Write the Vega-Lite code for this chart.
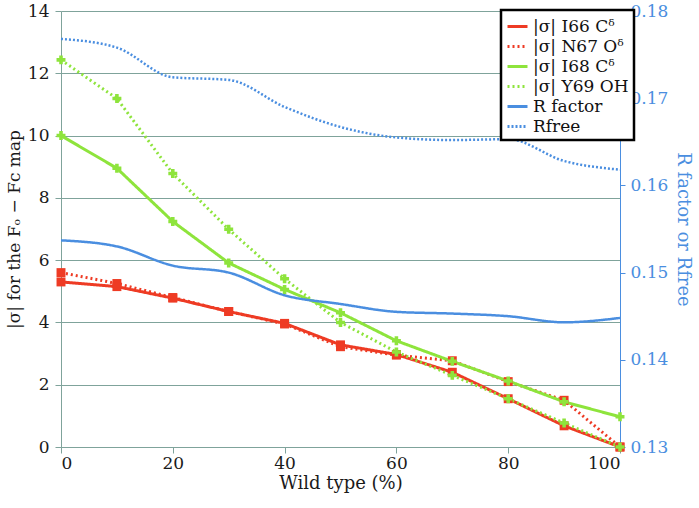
{
  "$schema": "https://vega.github.io/schema/vega-lite/v6.json",
  "width": 559,
  "height": 436,
  "autosize": {"type": "none"},
  "padding": {"left": 61, "top": 11, "right": 79, "bottom": 61},
  "config": {
    "view": {"stroke": null},
    "axis": {"labelFont": "DejaVu Serif", "titleFont": "DejaVu Serif", "labelFontSize": 17, "titleFontSize": 18, "titleFontWeight": "normal", "labelColor": "#1a1a1a", "titleColor": "#1a1a1a"},
    "legend": {"labelFont": "DejaVu Serif"}
  },
  "datasets": {
    "sig": [
      {"x": 0, "s": "|σ| I66 Cᵟ", "v": 5.3}, {"x": 10, "s": "|σ| I66 Cᵟ", "v": 5.15}, {"x": 20, "s": "|σ| I66 Cᵟ", "v": 4.78}, {"x": 30, "s": "|σ| I66 Cᵟ", "v": 4.35}, {"x": 40, "s": "|σ| I66 Cᵟ", "v": 3.97}, {"x": 50, "s": "|σ| I66 Cᵟ", "v": 3.28}, {"x": 60, "s": "|σ| I66 Cᵟ", "v": 2.97}, {"x": 70, "s": "|σ| I66 Cᵟ", "v": 2.4}, {"x": 80, "s": "|σ| I66 Cᵟ", "v": 1.55}, {"x": 90, "s": "|σ| I66 Cᵟ", "v": 0.68}, {"x": 100, "s": "|σ| I66 Cᵟ", "v": 0.0},
      {"x": 0, "s": "|σ| N67 Oᵟ", "v": 5.6}, {"x": 10, "s": "|σ| N67 Oᵟ", "v": 5.25}, {"x": 20, "s": "|σ| N67 Oᵟ", "v": 4.8}, {"x": 30, "s": "|σ| N67 Oᵟ", "v": 4.35}, {"x": 40, "s": "|σ| N67 Oᵟ", "v": 3.95}, {"x": 50, "s": "|σ| N67 Oᵟ", "v": 3.22}, {"x": 60, "s": "|σ| N67 Oᵟ", "v": 2.95}, {"x": 70, "s": "|σ| N67 Oᵟ", "v": 2.77}, {"x": 80, "s": "|σ| N67 Oᵟ", "v": 2.1}, {"x": 90, "s": "|σ| N67 Oᵟ", "v": 1.5}, {"x": 100, "s": "|σ| N67 Oᵟ", "v": 0.0},
      {"x": 0, "s": "|σ| I68 Cᵟ", "v": 10.0}, {"x": 10, "s": "|σ| I68 Cᵟ", "v": 8.95}, {"x": 20, "s": "|σ| I68 Cᵟ", "v": 7.24}, {"x": 30, "s": "|σ| I68 Cᵟ", "v": 5.91}, {"x": 40, "s": "|σ| I68 Cᵟ", "v": 5.06}, {"x": 50, "s": "|σ| I68 Cᵟ", "v": 4.31}, {"x": 60, "s": "|σ| I68 Cᵟ", "v": 3.41}, {"x": 70, "s": "|σ| I68 Cᵟ", "v": 2.75}, {"x": 80, "s": "|σ| I68 Cᵟ", "v": 2.12}, {"x": 90, "s": "|σ| I68 Cᵟ", "v": 1.45}, {"x": 100, "s": "|σ| I68 Cᵟ", "v": 0.97},
      {"x": 0, "s": "|σ| Y69 OH", "v": 12.43}, {"x": 10, "s": "|σ| Y69 OH", "v": 11.19}, {"x": 20, "s": "|σ| Y69 OH", "v": 8.78}, {"x": 30, "s": "|σ| Y69 OH", "v": 6.99}, {"x": 40, "s": "|σ| Y69 OH", "v": 5.4}, {"x": 50, "s": "|σ| Y69 OH", "v": 4.0}, {"x": 60, "s": "|σ| Y69 OH", "v": 3.05}, {"x": 70, "s": "|σ| Y69 OH", "v": 2.3}, {"x": 80, "s": "|σ| Y69 OH", "v": 1.55}, {"x": 90, "s": "|σ| Y69 OH", "v": 0.77}, {"x": 100, "s": "|σ| Y69 OH", "v": 0.0}
    ],
    "rf": [
      {"x": 0, "s": "R factor", "r": 0.1537}, {"x": 10, "s": "R factor", "r": 0.1530}, {"x": 20, "s": "R factor", "r": 0.1508}, {"x": 30, "s": "R factor", "r": 0.1500}, {"x": 40, "s": "R factor", "r": 0.1474}, {"x": 50, "s": "R factor", "r": 0.1464}, {"x": 60, "s": "R factor", "r": 0.1455}, {"x": 70, "s": "R factor", "r": 0.1453}, {"x": 80, "s": "R factor", "r": 0.1450}, {"x": 90, "s": "R factor", "r": 0.1443}, {"x": 100, "s": "R factor", "r": 0.1448},
      {"x": 0, "s": "Rfree", "r": 0.1768}, {"x": 10, "s": "Rfree", "r": 0.1758}, {"x": 20, "s": "Rfree", "r": 0.1724}, {"x": 30, "s": "Rfree", "r": 0.1721}, {"x": 40, "s": "Rfree", "r": 0.1690}, {"x": 50, "s": "Rfree", "r": 0.1667}, {"x": 60, "s": "Rfree", "r": 0.1655}, {"x": 70, "s": "Rfree", "r": 0.1652}, {"x": 80, "s": "Rfree", "r": 0.1653}, {"x": 90, "s": "Rfree", "r": 0.1628}, {"x": 100, "s": "Rfree", "r": 0.1618}
    ]
  },
  "layer": [
    {
      "data": {"name": "sig"},
      "layer": [
        {
          "mark": {"type": "line", "strokeWidth": 3},
          "encoding": {
            "x": {"field": "x", "type": "quantitative", "scale": {"domain": [0, 100]}, "axis": {"values": [0, 20, 40, 60, 80, 100], "title": "Wild type (%)", "grid": false, "domainColor": "#7fa39b", "tickColor": "#7fa39b", "tickSize": 6, "labelPadding": 2, "titlePadding": 3}},
            "y": {"field": "v", "type": "quantitative", "scale": {"domain": [0, 14]}, "axis": {"values": [0, 2, 4, 6, 8, 10, 12, 14], "title": "|σ| for the Fₒ − Fc map", "titleFontSize": 17, "gridColor": "#7fa39b", "gridWidth": 1.2, "gridOpacity": 1, "domainColor": "#7fa39b", "tickColor": "#7fa39b", "tickSize": 6, "labelPadding": 6, "titlePadding": 4}},
            "color": {"field": "s", "type": "nominal", "scale": {"domain": ["|σ| I66 Cᵟ", "|σ| N67 Oᵟ", "|σ| I68 Cᵟ", "|σ| Y69 OH", "R factor", "Rfree"], "range": ["#ee3b24", "#ee3b24", "#8ee43c", "#8ee43c", "#4a8ee0", "#4a8ee0"]}, "legend": {"orient": "none", "legendX": 440, "legendY": -1, "title": null, "symbolType": "stroke", "symbolStrokeWidth": 3, "symbolSize": 400, "labelFontSize": 17, "labelColor": "#111", "strokeColor": "#000", "fillColor": "#ffffff", "padding": 5, "rowPadding": 0, "labelLimit": 200, "encode": {"legend": {"update": {"strokeWidth": {"value": 2.5}}}}}},
            "strokeDash": {"field": "s", "type": "nominal", "scale": {"domain": ["|σ| I66 Cᵟ", "|σ| N67 Oᵟ", "|σ| I68 Cᵟ", "|σ| Y69 OH", "R factor", "Rfree"], "range": [[1, 0], [2, 3], [1, 0], [2, 3], [1, 0], [2, 2]]}, "legend": null}
          }
        },
        {
          "mark": {"type": "point", "filled": true, "opacity": 1},
          "encoding": {
            "x": {"field": "x", "type": "quantitative"},
            "y": {"field": "v", "type": "quantitative"},
            "color": {"field": "s", "type": "nominal"},
            "shape": {"field": "s", "type": "nominal", "scale": {"domain": ["|σ| I66 Cᵟ", "|σ| N67 Oᵟ", "|σ| I68 Cᵟ", "|σ| Y69 OH"], "range": ["square", "square", "cross", "cross"]}, "legend": null},
            "size": {"value": 80}
          }
        }
      ]
    },
    {
      "data": {"name": "rf"},
      "mark": {"type": "line", "strokeWidth": 2.5, "interpolate": "monotone"},
      "encoding": {
        "x": {"field": "x", "type": "quantitative"},
        "y": {"field": "r", "type": "quantitative", "scale": {"domain": [0.13, 0.18]}, "axis": {"orient": "right", "values": [0.13, 0.14, 0.15, 0.16, 0.17, 0.18], "format": ".2f", "grid": false, "title": "R factor or Rfree", "labelColor": "#4a8ee0", "titleColor": "#4a8ee0", "domainColor": "#4a8ee0", "tickColor": "#4a8ee0", "tickSize": 5, "labelPadding": 5, "titlePadding": 6}},
        "color": {"field": "s", "type": "nominal"},
        "strokeDash": {"field": "s", "type": "nominal"}
      }
    }
  ],
  "resolve": {"scale": {"y": "independent"}}
}
